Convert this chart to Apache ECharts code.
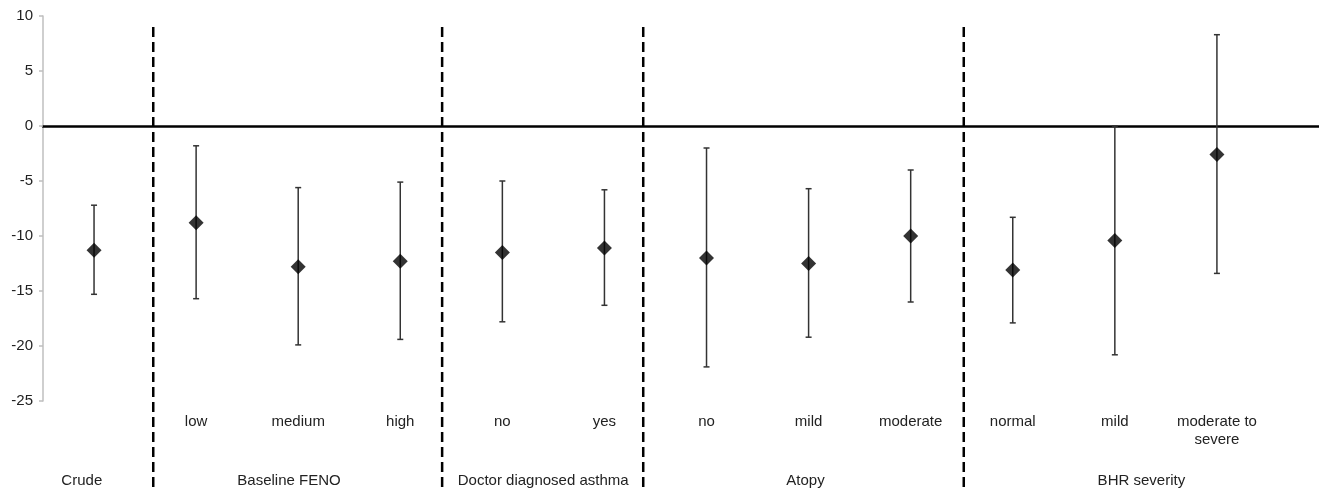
<!DOCTYPE html>
<html><head><meta charset="utf-8">
<script src="https://cdn.jsdelivr.net/npm/echarts/dist/echarts.min.js"></script>
<style>html,body{margin:0;padding:0;background:#fff}#c{width:1319px;height:492px}</style>
</head><body><div id="c"></div>
<script>
// ---- data ----
const categories = ['', 'low', 'medium', 'high', 'no', 'yes', 'no', 'mild', 'moderate', 'normal', 'mild', 'moderate to\nsevere'];
const groupNames = ['Crude', 'Baseline FENO', 'Doctor diagnosed asthma', 'Atopy', 'BHR severity'];
const estimates = [-11.3, -8.8, -12.8, -12.3, -11.5, -11.1, -12.0, -12.5, -10.0, -13.1, -10.4, -2.6];
const lowerCI   = [-15.3, -15.7, -19.9, -19.4, -17.8, -16.3, -21.9, -19.2, -16.0, -17.9, -20.8, -13.4];
const upperCI   = [-7.2, -1.8, -5.6, -5.1, -5.0, -5.8, -2.0, -5.7, -4.0, -8.3, 0.0, 8.3];
const yTicks = [10, 5, 0, -5, -10, -15, -20, -25];

// ---- layout (axis units) ----
const groupDividers = [1.08, 3.91, 5.88, 9.02];
const groupLabelPos = [0.38, 2.41, 4.90, 7.47, 10.76];

const FONT = '"Liberation Sans", Arial, sans-serif';
const chart = echarts.init(document.getElementById('c'), null, {renderer: 'canvas'});
const xs = categories.map((_, i) => i + 0.5);

chart.setOption({
  animation: false,
  backgroundColor: '#fff',
  grid: {left: 43, right: 0, top: 16, bottom: 91, containLabel: false},
  xAxis: {
    type: 'value', min: 0, max: 12.5,
    axisLine: {show: true, onZero: true, lineStyle: {color: '#000', width: 2.5}},
    axisTick: {show: false}, axisLabel: {show: false}, splitLine: {show: false}
  },
  yAxis: {
    type: 'value', min: Math.min(...yTicks), max: Math.max(...yTicks), interval: 5,
    axisLine: {show: true, lineStyle: {color: '#bfbfbf', width: 1.5}},
    axisTick: {show: true, length: 4, lineStyle: {color: '#bfbfbf', width: 1.5}},
    axisLabel: {color: '#222', fontSize: 15, fontFamily: FONT, margin: 10},
    splitLine: {show: false}
  },
  series: [
    {
      type: 'custom',
      data: xs.map((x, i) => [x, lowerCI[i], upperCI[i]]),
      renderItem: function (params, api) {
        const lo = api.coord([api.value(0), api.value(1)]);
        const hi = api.coord([api.value(0), api.value(2)]);
        const cap = 3;
        const st = {stroke: '#333', lineWidth: 1.5};
        return {type: 'group', children: [
          {type: 'line', shape: {x1: lo[0], y1: lo[1], x2: hi[0], y2: hi[1]}, style: st},
          {type: 'line', shape: {x1: lo[0] - cap, y1: lo[1], x2: lo[0] + cap, y2: lo[1]}, style: st},
          {type: 'line', shape: {x1: hi[0] - cap, y1: hi[1], x2: hi[0] + cap, y2: hi[1]}, style: st}
        ]};
      },
      z: 2
    },
    {
      type: 'scatter',
      data: xs.map((x, i) => [x, estimates[i]]),
      symbol: 'diamond', symbolSize: 15,
      itemStyle: {color: '#000'},
      z: 3
    }
  ]
});

function px(x) { return chart.convertToPixel({xAxisIndex: 0}, x); }
function py(y) { return chart.convertToPixel({yAxisIndex: 0}, y); }
const yBottom = py(Math.min(...yTicks));
const graphics = [];
groupDividers.forEach(d => {
  const x = px(d);
  graphics.push({type: 'line', shape: {x1: x, y1: py(9.0), x2: x, y2: 492},
    style: {stroke: '#000', lineWidth: 2.5, lineDash: [10, 5]}, z: 1});
});
categories.forEach((c, i) => {
  if (!c) return;
  graphics.push({type: 'text', x: px(xs[i]), y: yBottom + 12,
    style: {text: c, align: 'center', verticalAlign: 'top', font: '15px ' + FONT, fill: '#222', lineHeight: 18}});
});
groupNames.forEach((g, i) => {
  graphics.push({type: 'text', x: px(groupLabelPos[i]), y: yBottom + 80,
    style: {text: g, align: 'center', verticalAlign: 'middle', font: '15px ' + FONT, fill: '#222'}});
});
chart.setOption({graphic: graphics});
</script>
</body></html>
